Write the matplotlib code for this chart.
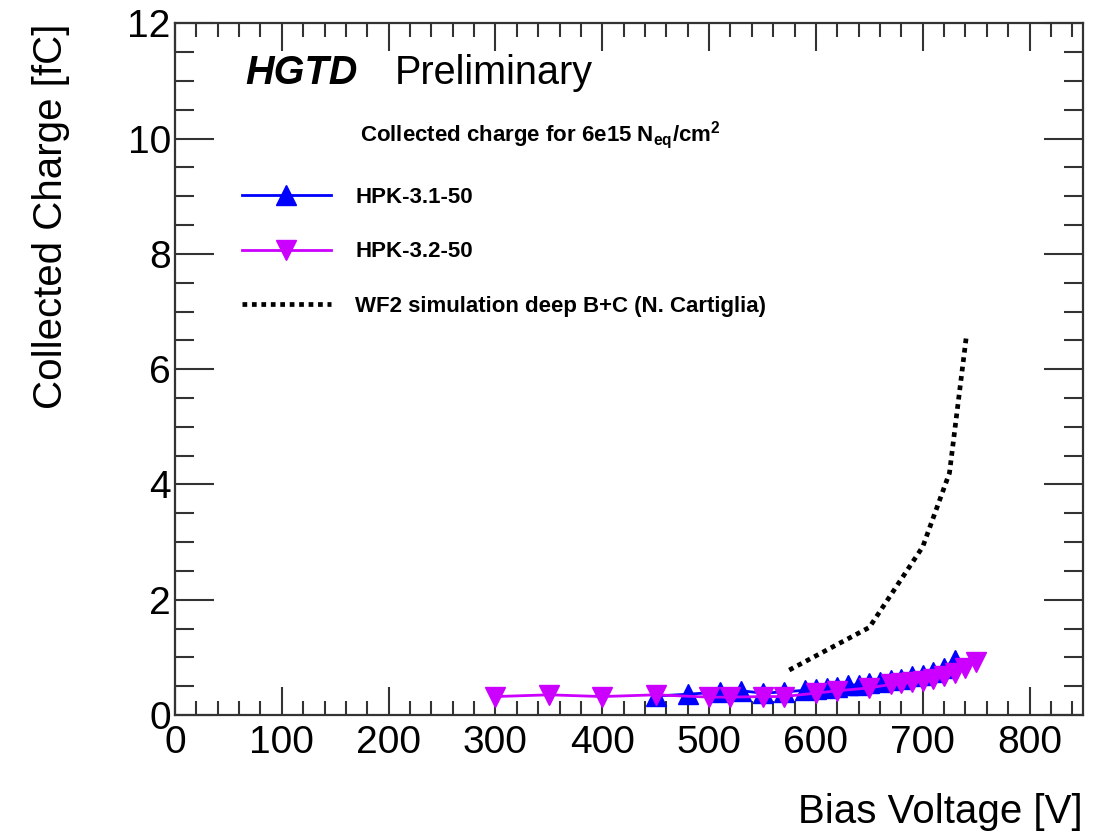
import matplotlib
matplotlib.use("Agg")
import matplotlib.pyplot as plt
from matplotlib.ticker import MultipleLocator

plt.rcParams['font.family'] = ['Liberation Sans', 'DejaVu Sans']
plt.rcParams['mathtext.fontset'] = 'custom'
plt.rcParams['mathtext.rm'] = 'Liberation Sans'
plt.rcParams['mathtext.bf'] = 'Liberation Sans:bold'

# Data
v_hpk31 = [450, 480, 510, 530, 550, 570, 590, 600, 610, 620, 630, 640, 650,
           660, 670, 680, 690, 700, 710, 720, 730]
q_hpk31 = [0.33, 0.36, 0.40, 0.42, 0.38, 0.40, 0.43, 0.45, 0.47, 0.49, 0.52,
           0.52, 0.55, 0.57, 0.60, 0.63, 0.67, 0.70, 0.75, 0.82, 0.95]

v_hpk32 = [300, 350, 400, 450, 500, 520, 550, 570, 600, 620, 650, 670, 680,
           690, 700, 710, 720, 730, 740, 750]
q_hpk32 = [0.32, 0.35, 0.32, 0.35, 0.31, 0.31, 0.32, 0.32, 0.38, 0.42, 0.47,
           0.53, 0.56, 0.58, 0.59, 0.62, 0.67, 0.73, 0.82, 0.92]

v_sim = [575, 650, 700, 725, 741]
q_sim = [0.78, 1.52, 2.92, 4.2, 6.6]

labels = ["HPK-3.1-50", "HPK-3.2-50", "WF2 simulation deep B+C (N. Cartiglia)"]

fig = plt.figure(figsize=(11, 8.32), dpi=100)
ax = fig.add_axes([175/1100, 1-715/832, (1083-175)/1100, (715-23.3)/832])

l1, = ax.plot(v_hpk31, q_hpk31, color='#0000ff', lw=2, marker='^', ms=15,
              label=labels[0], zorder=3)
l2, = ax.plot(v_hpk32, q_hpk32, color='#cc00ff', lw=2, marker='v', ms=15,
              label=labels[1], zorder=4)
l3, = ax.plot(v_sim, q_sim, color='black', lw=3.4, linestyle=(0, (1.0, 1.0)),
              label=labels[2], zorder=2)

ax.set_xlim(0, 850)
ax.set_ylim(0, 12)
ax.xaxis.set_major_locator(MultipleLocator(100))
ax.xaxis.set_minor_locator(MultipleLocator(20))
ax.yaxis.set_major_locator(MultipleLocator(2))
ax.yaxis.set_minor_locator(MultipleLocator(0.5))
ax.tick_params(which='both', direction='in', top=True, right=True,
               color='#333333', width=1.5)
ax.tick_params(axis='x', which='major', length=20, labelsize=28, pad=7)
ax.tick_params(axis='x', which='minor', length=10)
ax.tick_params(axis='y', which='major', length=28, labelsize=28, pad=3)
ax.tick_params(axis='y', which='minor', length=14)
for s in ax.spines.values():
    s.set_color('#333333')
    s.set_linewidth(1.6)

ax.set_xlabel('Bias Voltage [V]', fontsize=29, loc='right')
ax.xaxis.set_label_coords(1.0, (715-812)/691.7)
ax.xaxis.label.set_va('center')
ax.set_ylabel('Collected Charge [fC]', fontsize=29, loc='top')
ax.yaxis.set_label_coords((70-175)/908, 1.0)

fig.text(245/1100, 1-84/832, 'HGTD', fontsize=28.5, fontweight='bold',
         fontstyle='italic', va='baseline', ha='left')
fig.text(395/1100, 1-84/832, 'Preliminary', fontsize=28.5, va='baseline', ha='left')

fig.text(360/1100, 1-135/832, r'Collected charge for 6e15 N$_{\mathbf{eq}}$/cm$^{\mathbf{2}}$',
         fontsize=16, fontweight='bold', va='center', ha='left')

leg = ax.legend(handles=[l1, l2, l3], loc='upper left',
                bbox_to_anchor=((242-175)/908, 1-(187-23.3)/691.7),
                frameon=False, handlelength=4.0, handletextpad=1.1,
                labelspacing=1.5, borderaxespad=0, borderpad=0,
                prop={'weight': 'bold', 'size': 16})

fig.savefig('out.png', dpi=100)
